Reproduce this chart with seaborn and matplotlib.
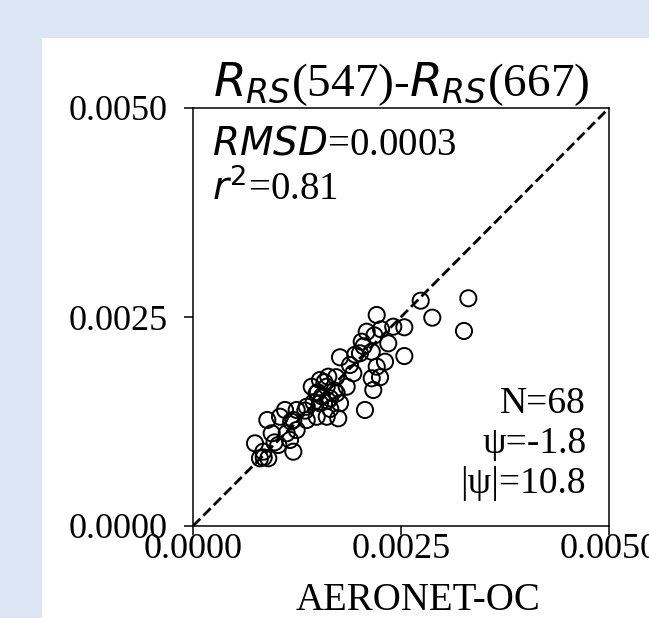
import numpy as np
import pandas as pd
import matplotlib
matplotlib.use("Agg")
import matplotlib.pyplot as plt
import seaborn as sns
from matplotlib.patches import Rectangle

# --- data (Rrs units, sr^-1) ---
aeronet = [0.002208, 0.002737, 0.002876, 0.002540, 0.002407, 0.002260, 0.002088, 0.002347,
           0.002028, 0.002148, 0.002007, 0.002308, 0.002540, 0.001767, 0.001887, 0.002208,
           0.001927, 0.002148, 0.002248, 0.002167, 0.001847, 0.001727, 0.001626, 0.001526,
           0.001427, 0.001607, 0.001487, 0.001647, 0.001767, 0.001526, 0.001367, 0.001246,
           0.001106, 0.001746, 0.001607, 0.001487, 0.002067, 0.001367, 0.001206, 0.001046,
           0.000893, 0.001246, 0.001126, 0.000946, 0.001166, 0.001025, 0.001206, 0.000745,
           0.000845, 0.000905, 0.000805, 0.003309, 0.003257, 0.001550, 0.001620, 0.001700,
           0.001580, 0.001350, 0.001450, 0.001720, 0.001950, 0.002050, 0.001180, 0.000980,
           0.000850, 0.002180, 0.001500, 0.001650]
satellite = [0.002524, 0.002695, 0.002492, 0.002377, 0.002384, 0.002353, 0.002324, 0.002185,
             0.002205, 0.002085, 0.002066, 0.001965, 0.002033, 0.002018, 0.001926, 0.001906,
             0.001827, 0.001767, 0.001779, 0.001627, 0.001666, 0.001587, 0.001786, 0.001746,
             0.001666, 0.001666, 0.001587, 0.001527, 0.001468, 0.001468, 0.001427, 0.001388,
             0.001388, 0.001288, 0.001307, 0.001307, 0.001388, 0.001268, 0.001268, 0.001307,
             0.001268, 0.001148, 0.001109, 0.001109, 0.001029, 0.000969, 0.000889, 0.000989,
             0.000889, 0.000810, 0.000810, 0.002724, 0.002333, 0.001550, 0.001500, 0.001620,
             0.001720, 0.001380, 0.001480, 0.001780, 0.002050, 0.002150, 0.001250, 0.001000,
             0.000820, 0.002280, 0.001600, 0.001400]
axis_lims = [0.0, 0.005]
tick_vals = [0.0, 0.0025, 0.005]
tick_labels = ["0.0000", "0.0025", "0.0050"]
stats_left = ["$RMSD$=0.0003", "$r^2$=0.81"]
stats_right = ["N=68", "\u03c8=-1.8", "|\u03c8|=10.8"]

df = pd.DataFrame({"aeronet": aeronet, "sat": satellite})

sns.set_style("ticks")
plt.rcParams["font.family"] = ["Liberation Serif", "DejaVu Serif"]
plt.rcParams["mathtext.fontset"] = "dejavusans"
plt.rcParams["text.color"] = "black"
plt.rcParams["axes.labelcolor"] = "black"
plt.rcParams["xtick.color"] = "black"
plt.rcParams["ytick.color"] = "black"

W, H = 649, 618
fig = plt.figure(figsize=(W / 100, H / 100), dpi=100, facecolor="#dbe5f4")
# white panel behind the plot
fig.patches.append(Rectangle((42 / W, 0), 1, (H - 38) / H, transform=fig.transFigure,
                             facecolor="white", edgecolor="none", zorder=-1))

ax = fig.add_axes([193 / W, (H - 526) / H, 416 / W, 418 / H])
ax.set_facecolor("white")

sns.scatterplot(data=df, x="aeronet", y="sat", ax=ax, s=135, marker="o",
                fc="none", ec="black", linewidth=1.4, zorder=3)
ax.plot(axis_lims, axis_lims, color="black", linestyle="--", linewidth=2.0, zorder=2)

ax.set_xlim(axis_lims)
ax.set_ylim(axis_lims)
ax.set_xticks(tick_vals, tick_labels)
ax.set_yticks(tick_vals, tick_labels)
for s in ax.spines.values():
    s.set_linewidth(1.1)
    s.set_color("black")
ax.tick_params(direction="out", length=6.5, width=1.1, labelsize=26,
               colors="black", labelcolor="black")
ax.tick_params(axis="x", pad=-1.5)
ax.tick_params(axis="y", pad=12)

ax.set_ylabel("")
ax.set_xlabel("AERONET-OC", fontsize=28, color="black")
ax.xaxis.set_label_coords(0.54, -0.135)
ax.set_title("$R_{RS}$(547)-$R_{RS}$(667)", fontsize=34, pad=4, color="black")

ax.text(0.045, 0.8876, stats_left[0], transform=ax.transAxes, fontsize=28,
        va="baseline", color="black")
ax.text(0.045, 0.780, stats_left[1], transform=ax.transAxes, fontsize=28,
        va="baseline", color="black")
for i, t in enumerate(stats_right):
    ax.text(0.945, 0.270 - i * 0.0955, t, transform=ax.transAxes, fontsize=27,
            ha="right", va="baseline", color="black")

fig.savefig("out.png", dpi=100, facecolor=fig.get_facecolor())
